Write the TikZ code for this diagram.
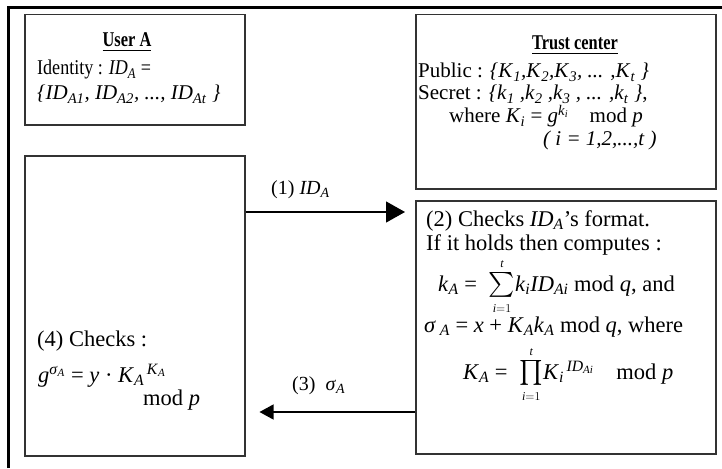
\documentclass[tikz,border=0pt]{standalone}
\usepackage{amsmath}
\usepackage{fontspec}
\setmainfont{Liberation Serif}
\newfontfamily\narrowtitle[FakeStretch=0.78]{Liberation Serif}
\newfontfamily\narrowtext[FakeStretch=0.86]{Liberation Serif}
\usetikzlibrary{arrows.meta}

% italic variable with italic subscript / identity component
\newcommand{\Sub}[2]{\textit{#1}\textsubscript{\textit{#2}}}
\newcommand{\ID}[1]{\textit{ID}\textsubscript{\textit{#1}}}
% compact big operator with small limits: #1 operator
\newcommand{\bigop}[1]{{\fontsize{24}{27}\selectfont$#1\limits_{\scriptscriptstyle\textit{i}=1}^{\scriptscriptstyle\textit{t}}$}}

\begin{document}
\begin{tikzpicture}[x=1pt,y=-1pt,
  box/.style={draw=black!80, line width=1.5pt, inner sep=0pt, anchor=north west},
  txt/.style={anchor=base west, inner sep=0pt},
  ctr/.style={anchor=base, inner sep=0pt},
  title/.style={ctr, font=\fontsize{21}{23}\narrowtitle\bfseries},
  upper/.style={font=\fontsize{21}{23}\selectfont},
  mid/.style={font=\fontsize{20}{23}\selectfont},
  large/.style={font=\fontsize{22.5}{26}\selectfont},
  arrbig/.style={line width=1.2pt, -{Triangle[length=19pt,width=21pt]}},
  arrsmall/.style={line width=1.2pt, -{Triangle[length=14pt,width=15pt]}}]
\useasboundingbox (0,0) rectangle (722,468);

% outer frame (top and left edges)
\draw[line width=3pt] (8.5,468) -- (8.5,8) -- (722,8);

% boxes
\node[box, minimum width=220pt, minimum height=110pt] (user)  at (24,14)  {};
\node[box, minimum width=300pt, minimum height=174pt] (trust) at (415,14) {};
\node[box, minimum width=220pt, minimum height=300pt] (check) at (24,155) {};
\node[box, minimum width=300pt, minimum height=253pt] (comp)  at (415,200) {};

% user A
\node[title] (ua) at (127,47) {\underline{User A}};
\node[txt, font=\fontsize{21}{23}\narrowtext] (uid) at (37,75) {Identity : \ID{A} =};
\node[txt, upper] (uset) at (37,100) {\textit{\{}\ID{A1}\textit{, }\ID{A2}\textit{, ..., }\ID{At}\textit{ \}}};

% trust center
\node[title] (tc) at (575,50) {\underline{Trust center}};
\node[txt, upper] (tpub) at (418,78)  {Public : \textit{\{}\Sub{K}{1}\textit{,}\Sub{K}{2}\textit{,}\Sub{K}{3}\textit{, ... ,}\Sub{K}{t}\textit{ \}}};
\node[txt, upper] (tsec) at (418,100) {Secret : \textit{\{}\Sub{k}{1}\textit{ ,}\Sub{k}{2}\textit{ ,}\Sub{k}{3}\textit{ , ... ,}\Sub{k}{t}\textit{ \}},};
\node[txt, upper] (twh)  at (449,123) {where \Sub{K}{i} = \textit{g}\textsuperscript{\Sub{k}{i}}\quad mod \textit{p}};
\node[txt, upper] (tidx) at (543,146) {\textit{( i = 1,2,...,t )}};

% step (2)
\node[txt, large] (c1) at (426,226) {(2) Checks \ID{A}’s format.};
\node[txt, large] (c2) at (426,250) {If it holds then computes :};
\node[txt, large] (c3) at (438,291) {\Sub{k}{A} =\; \bigop{\sum}\Sub{k}{i}\ID{Ai} mod \textit{q}, and};
\node[txt, large] (c4) at (424,332) {\textit{σ}\,\textsubscript{\textit{A}} = \textit{x} + \Sub{K}{A}\Sub{k}{A} mod \textit{q}, where};
\node[txt, large] (c5) at (463,379) {\Sub{K}{A} =\; \bigop{\prod}\Sub{K}{i}\textsuperscript{\,\ID{Ai}}\quad mod \textit{p}};

% step (4)
\node[txt, large] (v1) at (37,346)  {(4) Checks :};
\node[txt, large] (v2) at (38,382)  {\textit{g}\textsuperscript{\Sub{σ}{A}} = \textit{y} · \Sub{K}{A}\textsuperscript{\,\Sub{K}{A}}};
\node[txt, large] (v3) at (143,405) {mod \textit{p}};

% messages
\coordinate (m1) at (0,212);
\coordinate (m3) at (0,412);
\draw[arrbig]   (check.east |- m1) -- ([xshift=-10pt]comp.west |- m1);
\draw[arrsmall] (comp.west |- m3)  -- ([xshift=14pt]check.east |- m3);
\node[txt, mid] (l1) at (271,194) {(1) \ID{A}};
\node[txt, mid] (l3) at (292,390) {(3)\ \ \Sub{σ}{A}};
\end{tikzpicture}
\end{document}
